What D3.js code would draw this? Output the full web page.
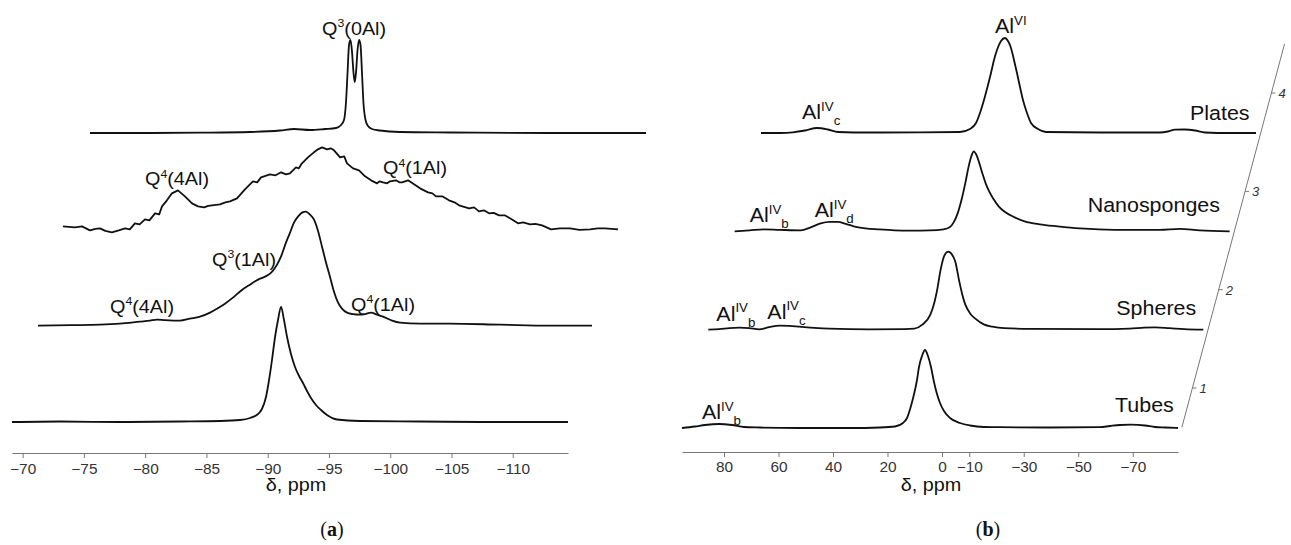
<!DOCTYPE html>
<html>
<head>
<meta charset="utf-8">
<script src="https://cdnjs.cloudflare.com/ajax/libs/d3/7.8.5/d3.min.js"></script>
<style>
html, body { margin: 0; padding: 0; background: #fff; }
svg { display: block; }
</style>
</head>
<body>
<div class="chart"></div>
<script>
// ---- panel (a): 29Si spectra, front (1) to back (4), [ppm, intensity]
const si1 = [[-69.13,0],[-73.04,0.5],[-77.94,0],[-82.84,0.5],[-86.11,1],[-87.74,2],[-88.56,4],[-89.21,8],[-89.53,13],[-89.86,25],[-90.11,42],[-90.35,62],[-90.60,85],[-90.84,102],[-91.09,115],[-91.33,102],[-91.58,85],[-91.90,68],[-92.23,55],[-92.56,46],[-92.88,39],[-93.21,31],[-93.53,24],[-93.94,17],[-94.35,12],[-94.84,7],[-95.66,2.5],[-97.53,1],[-102.43,0.5],[-107.33,0],[-114.51,0]];

const si2 = [[-69.13,0],[-71.74,0.5],[-74.19,1],[-75.82,2],[-77.45,4],[-78.27,5],[-78.84,6],[-79.49,5.5],[-80.72,5],[-81.53,7],[-82.35,9],[-83.17,13],[-83.74,17],[-84.39,22],[-85.04,28],[-85.70,35],[-86.43,41],[-87.09,46],[-87.66,49],[-88.07,52],[-88.31,55],[-88.64,61],[-88.96,69],[-89.37,83],[-89.70,93],[-90.02,103],[-90.35,109],[-90.68,113],[-91.00,114],[-91.33,111],[-91.66,106],[-91.98,95],[-92.31,79],[-92.64,63],[-92.96,49],[-93.29,34],[-93.62,23],[-93.94,17],[-94.35,13],[-94.84,11.5],[-95.33,11],[-95.82,11.5],[-96.31,13],[-96.80,11],[-97.29,9],[-98.03,5],[-98.68,3],[-100.31,2],[-102.68,2],[-106.84,1],[-110.92,0],[-114.35,0]];

const si3 = [[-69.04,3],[-70.02,2],[-70.6,3],[-71.25,-1],[-71.7,0.5],[-72.07,1],[-72.5,-1.5],[-73.04,-3],[-73.6,-1],[-74.11,1],[-74.5,0],[-74.92,6],[-75.3,5],[-75.74,10],[-76.1,9],[-76.56,16],[-76.9,15],[-77.13,23],[-77.53,29],[-77.94,36],[-78.43,39],[-79.00,33],[-79.58,26],[-80.07,23],[-80.56,22],[-80.9,23.5],[-81.21,24],[-81.86,25],[-82.3,27],[-82.68,28],[-83.25,31],[-83.90,40],[-84.55,48],[-84.9,47],[-85.21,52],[-85.94,55],[-86.4,54],[-86.84,57],[-87.25,55],[-87.57,56],[-88.06,62],[-88.3,61],[-88.55,66],[-89.04,72],[-89.53,77],[-89.86,80],[-90.19,82],[-90.60,80],[-90.9,81],[-91.17,79],[-91.66,72],[-92.0,73],[-92.23,66],[-92.72,61],[-93.21,59],[-93.70,53],[-94.19,49],[-94.68,46],[-94.9,48],[-95.17,47],[-95.5,46],[-95.74,48],[-96.23,49],[-96.5,47],[-96.72,47],[-97.21,49],[-97.70,45],[-98.19,41],[-98.84,37],[-99.2,36],[-99.49,33],[-100.0,33],[-100.55,29],[-101.0,27],[-101.37,24],[-102.19,21],[-102.6,22],[-103.00,18],[-103.4,19],[-103.82,16],[-104.2,16.5],[-104.64,14],[-105.1,14],[-105.53,11],[-106.19,6],[-106.6,7],[-107.17,5],[-107.6,5.5],[-108.15,4],[-108.88,0],[-109.6,1],[-110.43,1],[-111.2,-0.5],[-112.07,0],[-112.7,1],[-113.29,1],[-114.35,0]];

const si4 = [[-69.13,0],[-74.02,0],[-78.11,0.3],[-82.19,1],[-84.64,2.5],[-85.79,4],[-87.09,3],[-88.31,4],[-89.21,5],[-89.62,8],[-89.86,13],[-90.02,30],[-90.15,60],[-90.27,88],[-90.39,93],[-90.51,82],[-90.64,60],[-90.74,51],[-90.84,60],[-90.96,82],[-91.09,93],[-91.21,88],[-91.33,60],[-91.45,30],[-91.62,13],[-91.82,7],[-92.15,4],[-92.80,2.5],[-94.43,1],[-98.51,0.5],[-106.67,0],[-114.51,0]];

const siSeries = [si1, si2, si3, si4];
const siTicks = [-70, -75, -80, -85, -90, -95, -100, -105, -110];
const siMinorTicks = [-72.5, -77.5, -82.5, -87.5, -92.5, -97.5, -102.5, -107.5, -112.5];

// peak labels: text, layer, ppm, intensity
const siLabels = [
  ["Q^3(0Al)", 4, -88.07, 98],
  ["Q^4(4Al)", 3, -75.74, 44],
  ["Q^4(1Al)", 3, -95.17, 55],
  ["Q^3(1Al)", 2, -83.33, 60],
  ["Q^4(4Al)", 2, -75.01, 13],
  ["Q^4(1Al)", 2, -94.68, 15]
];

// ---- panel (b): 27Al spectra
const alTubes = [[95.41,0],[90.64,1.5],[86.97,3],[81.83,4],[77.06,3],[72.66,1],[66.79,0.5],[52.11,0],[33.76,0],[22.75,0.5],[17.25,1.5],[14.31,5],[12.84,10],[11.38,22],[9.91,38],[9.17,48],[8.44,61],[7.34,72],[6.24,78],[5.14,72],[4.04,61],[2.94,46],[1.83,34],[0.73,25],[-0.73,17],[-2.94,10],[-6.61,5],[-10.28,2.5],[-15.41,1],[-21.28,0.8],[-39.63,0.5],[-57.98,0.8],[-61.65,2],[-65.32,3],[-69.36,3.3],[-74.50,2.5],[-78.17,1],[-81.83,0.5],[-86.61,0]];

const alSpheres = [[95.41,0],[91.38,0.5],[87.71,1.5],[84.04,2],[80.37,1.5],[76.70,0.3],[73.03,2.5],[69.36,4],[65.69,3.8],[62.02,3],[56.51,1.8],[51.01,1],[36.33,0.3],[23.49,0.5],[19.82,1],[16.88,5],[13.94,15],[12.48,27],[11.56,38],[10.09,61],[8.81,74],[7.34,78],[6.24,76],[4.77,68],[3.30,48],[2.20,35],[1.10,25],[-0.73,16],[-2.57,11],[-5.87,5],[-8.81,3],[-13.21,1.5],[-22.39,0.8],[-48.07,0.5],[-59.08,1],[-64.59,2],[-68.62,2.3],[-73.76,1.5],[-79.27,0.5],[-86.24,0]];

const alNanosponges = [[95.41,0],[89.91,1],[84.77,2],[78.90,1.5],[71.19,1],[67.52,4],[63.85,8],[60.55,9.5],[57.61,9.5],[54.68,7.5],[51.74,5],[47.34,3],[42.94,2],[36.70,1],[30.83,0.8],[23.85,1],[18.72,2],[16.51,4],[15.05,9],[13.58,18],[12.11,32],[10.64,50],[9.54,65],[8.44,76],[7.71,80],[6.61,76],[5.50,67],[4.40,57],[3.30,48],[1.83,39],[0.37,32],[-1.47,25],[-3.67,19.5],[-7.34,14],[-11.01,10],[-16.51,7],[-23.12,5],[-31.19,3],[-38.17,2],[-49.54,1.5],[-60.55,1.5],[-67.89,2.5],[-75.23,1],[-86.24,0]];

const alPlates = [[95.41,0],[88.44,0],[83.67,0.7],[79.27,2.5],[74.86,5],[70.83,3.5],[67.16,1],[55.41,0.5],[37.06,0.7],[22.39,1],[18.72,4],[16.51,10],[15.05,20],[13.58,33],[12.11,48],[11.01,60],[9.91,73],[8.81,83],[7.34,92],[5.87,95],[4.77,92],[3.67,85],[2.57,73],[1.47,60],[0.37,46],[-0.73,33],[-2.20,20],[-3.67,10],[-6.24,4],[-9.17,1],[-28.99,0.5],[-51.01,0.5],[-53.94,1.5],[-56.51,3.3],[-60.18,3.5],[-63.85,2.5],[-67.52,0.5],[-76.70,0],[-86.24,0]];

const alSeries = [alTubes, alSpheres, alNanosponges, alPlates];
const alSamples = ["Tubes", "Spheres", "Nanosponges", "Plates"];
const alLayers = [1, 2, 3, 4];
const alTicks = [80, 60, 40, 20, 0, -10, -30, -50, -70];
const alMinorTicks = d3.range(95, -90, -5).filter(v => !alTicks.includes(v));

// sample names: layer, ppm, intensity
const alNameLabels = [
  [1, -63.49, 16],
  [2, -54.31, 15],
  [3, -34.13, 19],
  [4, -62.02, 13]
];
// peak labels: text, layer, ppm, intensity
const alLabels = [
  ["Al^VI", 4, 9.54, 100],
  ["Al^IV_c", 4, 80.36, 14],
  ["Al^IV_b", 3, 89.91, 9],
  ["Al^IV_d", 3, 66.05, 14],
  ["Al^IV_b", 2, 92.47, 9],
  ["Al^IV_c", 2, 73.76, 11],
  ["Al^IV_b", 1, 88.07, 9]
];

const W = 1291, H = 545;
const FONT = "'Liberation Sans', Arial, sans-serif";

const svg = d3.select("div.chart")
  .append("svg")
  .attr("width", W)
  .attr("height", H)
  .style("font-family", FONT);

// scales
const xA = d3.scaleLinear().domain([-69.13, -114.51]).range([12, 568]);
const xB = d3.scaleLinear().domain([95.41, -86.61]).range([682, 1178]);
const yInt = d3.scaleLinear().domain([0, 100]).range([0, 100]);

// 3D offsets per layer (waterfall)
const dxA = d3.scaleLinear().domain([1, 4]).range([0, 78]);
const baseA = d3.scaleLinear().domain([1, 4]).range([422, 133]);
const dxB = d3.scaleLinear().domain([1, 4]).range([0, 79]);
const baseB = d3.scaleLinear().domain([1, 4]).range([428, 133]);

// text with ^sup and _sub parts, slightly stretched like the original
function richText(g, x, y, str, size) {
  const t = g.append("text")
    .attr("transform", "translate(" + x + "," + y + ") scale(1.1,1)")
    .attr("font-size", size)
    .attr("fill", "#111");
  const re = /\^([^_(]+)|_([a-z]+)|([^^_]+)/g;
  let m, cur = 0;
  while ((m = re.exec(str))) {
    let shift, fs, txt;
    if (m[1]) { shift = -0.42 * size; fs = 0.62 * size; txt = m[1]; }
    else if (m[2]) { shift = 0.3 * size; fs = 0.62 * size; txt = m[2]; }
    else { shift = 0; fs = size; txt = m[3]; }
    t.append("tspan").attr("dy", shift - cur).attr("font-size", fs).text(txt);
    cur = shift;
  }
  return t;
}

// ---------- panel (a)
const gA = svg.append("g");

siSeries.forEach(function(s, i) {
  const layer = i + 1;
  const line = d3.line()
    .x(d => xA(d[0]) + dxA(layer))
    .y(d => baseA(layer) - yInt(d[1]))
    .curve(layer === 3 ? d3.curveLinear : d3.curveMonotoneX);
  gA.append("path")
    .datum(s)
    .attr("d", line)
    .attr("fill", "none")
    .attr("stroke", "#111")
    .attr("stroke-width", 1.8)
    .attr("stroke-linejoin", "round");
});

siLabels.forEach(function(l) {
  richText(gA, xA(l[2]) + dxA(l[1]), baseA(l[1]) - yInt(l[3]), l[0], 18);
});

const axA = gA.append("g").attr("transform", "translate(0,453)");
axA.call(d3.axisBottom(xA).tickValues(siMinorTicks).tickSize(3).tickSizeOuter(0).tickFormat(""));
axA.call(d3.axisBottom(xA).tickValues(siTicks).tickSize(5).tickSizeOuter(0).tickPadding(6));

// ---------- panel (b)
const gB = svg.append("g");

alSeries.forEach(function(s, i) {
  const layer = alLayers[i];
  const line = d3.line()
    .x(d => xB(d[0]) + dxB(layer))
    .y(d => baseB(layer) - yInt(d[1]))
    .curve(d3.curveMonotoneX);
  gB.append("path")
    .datum(s)
    .attr("d", line)
    .attr("fill", "none")
    .attr("stroke", "#111")
    .attr("stroke-width", 1.8)
    .attr("stroke-linejoin", "round");
});

alNameLabels.forEach(function(l, i) {
  richText(gB, xB(l[1]) + dxB(l[0]), baseB(l[0]) - yInt(l[2]), alSamples[i], 19.5);
});
alLabels.forEach(function(l) {
  richText(gB, xB(l[2]) + dxB(l[1]), baseB(l[1]) - yInt(l[3]), l[0], 19.5);
});

const axB = gB.append("g").attr("transform", "translate(0,452)");
axB.call(d3.axisBottom(xB).tickValues(alMinorTicks).tickSize(3).tickSizeOuter(0).tickFormat(""));
axB.call(d3.axisBottom(xB).tickValues(alTicks).tickSize(5).tickSizeOuter(0).tickPadding(5));

// oblique depth axis
const zx = z => xB.range()[1] + 14.4 + dxB(z);
const zy = z => baseB(z) - 40;
gB.append("line")
  .attr("x1", zx(0.6)).attr("y1", zy(0.6))
  .attr("x2", zx(4.5)).attr("y2", zy(4.5))
  .attr("stroke", "#777").attr("stroke-width", 1);
alLayers.forEach(function(z) {
  gB.append("line")
    .attr("x1", zx(z)).attr("y1", zy(z))
    .attr("x2", zx(z) + 4).attr("y2", zy(z))
    .attr("stroke", "#777");
  gB.append("text")
    .attr("x", zx(z) + 7).attr("y", zy(z) + 5)
    .attr("font-size", 13)
    .attr("font-style", "italic")
    .attr("fill", "#333")
    .text(z);
});

// axis styling
svg.selectAll(".domain, .tick line").attr("stroke", "#777");
svg.selectAll(".tick text")
  .attr("fill", "#333")
  .attr("font-size", 14)
  .attr("font-family", FONT)
  .attr("transform", "scale(1.1,1)");

// axis titles and panel letters
[[296, "δ, ppm"], [931, "δ, ppm"]].forEach(function(t) {
  svg.append("text")
    .attr("transform", "translate(" + t[0] + ",491) scale(1.1,1)")
    .attr("text-anchor", "middle")
    .attr("font-size", 18)
    .attr("fill", "#111")
    .text(t[1]);
});
[[332, "a"], [988, "b"]].forEach(function(t) {
  const p = svg.append("text")
    .attr("x", t[0]).attr("y", 536)
    .attr("text-anchor", "middle")
    .attr("font-family", "'Liberation Serif', 'DejaVu Serif', serif")
    .attr("font-size", 20)
    .attr("fill", "#111");
  p.append("tspan").text("(");
  p.append("tspan").attr("font-weight", "bold").text(t[1]);
  p.append("tspan").text(")");
});
</script>
</body>
</html>
